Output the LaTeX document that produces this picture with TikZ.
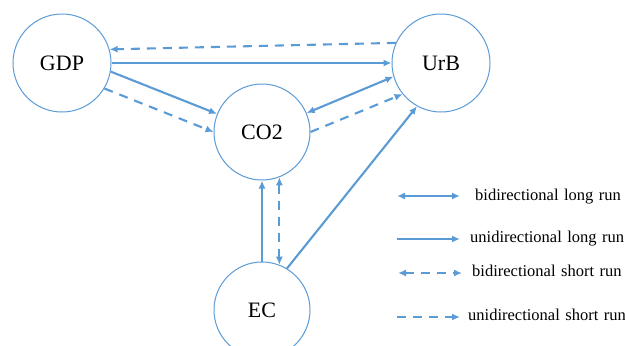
\documentclass[tikz,border=0pt]{standalone}
\usepackage{fontspec}
\setmainfont{Liberation Serif}
\newfontfamily\labfont{Liberation Serif}
\usetikzlibrary{arrows.meta}
\definecolor{lineblue}{RGB}{91,155,213}
\newcommand{\wsp}{\hspace{5.5pt}}
\begin{document}
\begin{tikzpicture}[x=1pt,y=-1pt,
  var/.style={circle,draw=lineblue,line width=1pt,inner sep=0pt,font=\labfont\fontsize{22}{24}\selectfont},
  conn/.style={draw=lineblue,line width=2.1pt,-{Latex[length=8pt,width=7pt]}},
  bi/.style={conn,{Latex[length=8pt,width=7pt]}-{Latex[length=8pt,width=7pt]}},
  short/.style={dash pattern=on 9pt off 7pt},
  legtext/.style={anchor=base west,inner sep=0pt,font=\labfont\fontsize{16.5}{19}\selectfont}]
\useasboundingbox (0,0) rectangle (625,346);
\node[var,minimum size=98pt] (GDP) at (62,63) {GDP};
\node[var,minimum size=98pt] (UrB) at (441,63) {UrB};
\node[var,minimum size=96pt] (CO2) at (262,132) {CO2};
\node[var,minimum size=96pt] (EC) at (262,310) {EC};
\draw[conn,short] (UrB.156) -- (GDP.16);
\draw[conn] (GDP.east) -- (UrB.west);
\draw[conn] (GDP.-10) -- (CO2.158);
\draw[conn,short] (GDP.-31) -- (CO2.180);
\draw[bi] (CO2.23) -- (UrB.-164);
\draw[conn,short] (CO2.0) -- (UrB.-141);
\draw[conn] (EC.59) -- (UrB.-119);
\draw[conn] (EC.north) -- (CO2.south);
\draw[bi,short] (EC.69) -- (CO2.-69);
% legend
\coordinate (l1a) at (397,196); \coordinate (l1b) at (460,196);
\coordinate (l2a) at (397,239); \coordinate (l2b) at (460,239);
\coordinate (l3a) at (398,273); \coordinate (l3b) at (462,273);
\coordinate (l4a) at (397,317); \coordinate (l4b) at (460,317);
\draw[bi] (l1a) -- (l1b);
\draw[conn] (l2a) -- (l2b);
\draw[bi,short] (l3a) -- (l3b);
\draw[conn,short] (l4a) -- (l4b);
\node[legtext] (t1) at (475,200) {bidirectional\wsp long\wsp run};
\node[legtext] (t2) at (470,242) {unidirectional\wsp long\wsp run};
\node[legtext] (t3) at (472,276) {bidirectional\wsp short\wsp run};
\node[legtext] (t4) at (468,320) {unidirectional\wsp short\wsp run};
\end{tikzpicture}
\end{document}
